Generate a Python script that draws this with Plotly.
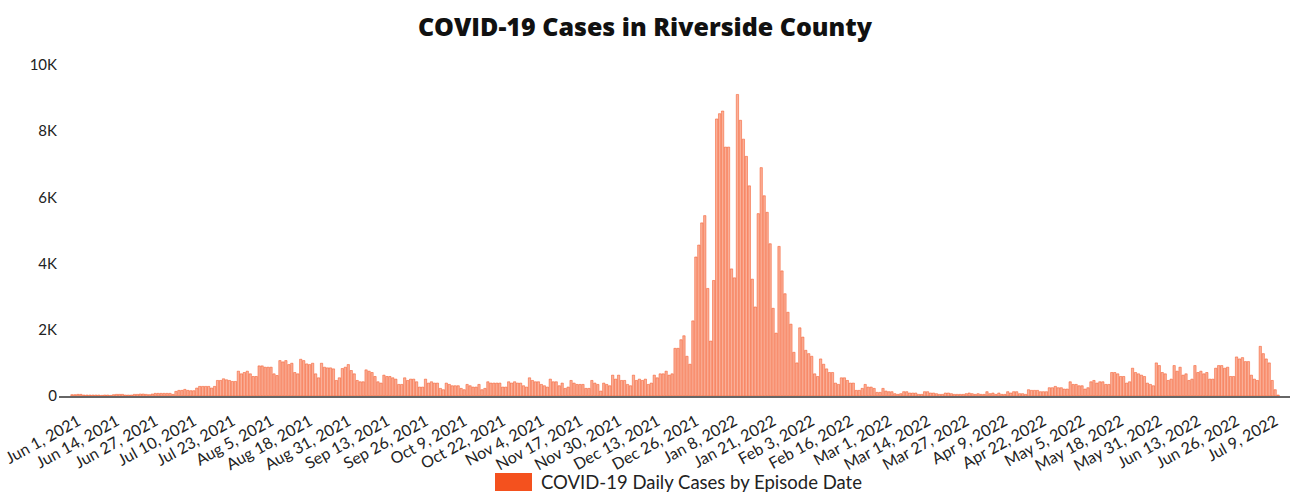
import pandas as pd
import plotly.graph_objects as go

start_date = "2021-06-01"

daily_cases = [
    # Jun 2021
    40, 40, 50, 50, 30, 30, 30, 30, 30, 30, 20, 30, 30, 20,
    40, 50, 50, 50, 30, 30, 30, 50, 50, 60, 60, 50, 40, 60,
    80, 80, 80, 80, 80, 80, 50, 140, 170,
    # Jul - Aug 2021
    170, 200, 170, 160, 160, 240, 290, 290, 290, 290, 240, 290, 470, 470,
    520, 490, 470, 440, 440, 750, 670, 710, 750, 670, 590, 590, 910, 910,
    870, 870, 870, 670, 620, 1070, 1030, 1070, 950, 990, 710, 670, 1110, 1070,
    970, 950, 990, 670, 550, 990, 870, 850, 850, 820, 470,
    # Aug - Dec 2021
    550, 830, 870, 950, 770, 670, 470, 430, 430, 790,
    750, 710, 590, 430, 390, 630, 590, 590, 550, 510,
    350, 350, 550, 470, 510, 510, 430, 270, 270, 510,
    390, 430, 390, 390, 230, 190, 390, 350, 310, 310,
    310, 230, 190, 350, 310, 270, 270, 350, 190, 230,
    430, 390, 390, 390, 390, 270, 270, 430, 390, 430,
    390, 390, 310, 270, 550, 470, 430, 430, 350, 310,
    270, 510, 430, 430, 310, 390, 230, 270, 470, 390,
    350, 350, 350, 230, 230, 470, 390, 350, 150, 390,
    350, 310, 630, 510, 630,
    # Dec 2021 - Feb 2022 (Omicron wave)
    470, 470, 350, 310, 630, 470, 510, 470, 510, 350, 390, 630, 550, 670,
    670, 750, 630, 670, 1440, 1440, 1700, 1820, 1200, 960, 2270, 4200, 4560,
    5230, 5450, 3250, 1660, 3490, 8370, 8530, 8610, 7520, 7520, 3840, 3570,
    9110, 8330, 7760, 7240, 6350, 3530, 2690, 5510, 6900, 6050, 5550, 4600,
    2650, 1900, 4520, 3780, 3090, 2530, 2170, 1320, 1000, 2060, 1780, 1380,
    1280, 1200, 670, 590, 1120, 960, 820, 710, 710, 390,
    # Feb - Apr 2022
    350, 550, 550, 470, 390, 390, 170, 170, 230, 350, 270, 270, 230, 110,
    110, 230, 150, 130, 130, 70, 50, 70, 130, 130, 90, 90, 90, 50, 50, 130,
    130, 90, 90, 70, 50, 50, 90, 90, 70, 50, 50, 50, 50, 70, 90, 70, 50, 70,
    50, 50, 130, 70, 90, 50, 90, 50, 50, 130, 90, 130, 130, 70, 70, 50,
    # Apr - Jul 2022
    190, 170, 170, 170, 130, 130, 130, 250, 250, 290, 250, 250, 210, 210,
    430, 350, 350, 310, 310, 210, 250, 430, 470, 390, 430, 430, 350, 350,
    710, 710, 670, 590, 590, 390, 430, 840, 710, 670, 630, 590, 390, 350,
    310, 1000, 920, 710, 670, 470, 510, 920, 750, 870, 630, 670, 470, 510,
    920, 710, 750, 670, 710, 510, 510, 840, 920, 920, 840, 870, 590, 590,
    1180, 1120, 1160, 1040, 1040, 630, 510, 470, 1500, 1280, 1120, 1000,
    470, 190, 30,
]

tick_labels = [
    "Jun 1, 2021", "Jun 14, 2021", "Jun 27, 2021", "Jul 10, 2021", "Jul 23, 2021",
    "Aug 5, 2021", "Aug 18, 2021", "Aug 31, 2021", "Sep 13, 2021", "Sep 26, 2021",
    "Oct 9, 2021", "Oct 22, 2021", "Nov 4, 2021", "Nov 17, 2021", "Nov 30, 2021",
    "Dec 13, 2021", "Dec 26, 2021", "Jan 8, 2022", "Jan 21, 2022", "Feb 3, 2022",
    "Feb 16, 2022", "Mar 1, 2022", "Mar 14, 2022", "Mar 27, 2022", "Apr 9, 2022",
    "Apr 22, 2022", "May 5, 2022", "May 18, 2022", "May 31, 2022", "Jun 13, 2022",
    "Jun 26, 2022", "Jul 9, 2022",
]

y_tick_values = [0, 2000, 4000, 6000, 8000, 10000]
y_tick_labels = ["0", "2K", "4K", "6K", "8K", "10K"]

series_name = "COVID-19 Daily Cases by Episode Date"
title_text = "COVID-19 Cases in Riverside County"

dates = pd.date_range(start_date, periods=len(daily_cases), freq="D")
tick_dates = pd.to_datetime(tick_labels, format="%b %d, %Y")

ORANGE = "#F4511E"
W, H = 1290, 493
L, T, B = 59, 65, 97
PH = H - T - B

fig = go.Figure()
fig.add_trace(go.Bar(
    x=dates, y=daily_cases, name=series_name, showlegend=False,
    marker=dict(color="rgba(244,81,30,0.46)", line=dict(color=ORANGE, width=0.5)),
))

x_start = pd.Timestamp(start_date) - pd.Timedelta(hours=int(4.4 * 24))
x_end = pd.Timestamp(start_date) + pd.Timedelta(hours=int(410 * 24))

# Legend swatch + label (bottom centre)
fig.add_shape(type="rect", xref="paper", yref="paper",
              x0=(495 - L) / (W - L), x1=(532 - L) / (W - L),
              y0=-(491 - (T + PH)) / PH, y1=-(473 - (T + PH)) / PH,
              fillcolor=ORANGE, line=dict(width=0))
fig.add_annotation(text=series_name, xref="paper", yref="paper",
                   x=(539 - L) / (W - L), xanchor="left",
                   y=-(482 - (T + PH)) / PH, yanchor="middle", showarrow=False,
                   font=dict(family="Lato, Carlito, sans-serif", size=18.5, color="#222222"))

fig.update_layout(
    width=W, height=H,
    margin=dict(l=L, r=0, t=T, b=B, autoexpand=False),
    paper_bgcolor="white", plot_bgcolor="white",
    bargap=0.22,
    font=dict(family="Lato, Carlito, sans-serif", color="#333333", size=14),
    title=dict(text=title_text, x=0.5, xref="container", xanchor="center",
               y=1 - 27 / H, yref="container", yanchor="middle",
               font=dict(family="Open Sans", size=25, color="#111111", weight=800)),
    showlegend=False,
    xaxis=dict(type="date", range=[x_start, x_end], automargin=False,
               tickmode="array", tickvals=tick_dates, ticktext=tick_labels,
               tickangle=-29, showgrid=False, showline=True, linecolor="#666666",
               linewidth=2, ticks="", zeroline=False, ticklabeloverflow="allow",
               ticklabelshift=6, ticklabelstandoff=8,
               tickfont=dict(size=16, color="#222222")),
    yaxis=dict(range=[0, 10000], tickmode="array", tickvals=y_tick_values,
               ticktext=y_tick_labels, showgrid=False, zeroline=False, automargin=False,
               showline=False, ticks="", tickfont=dict(size=15, color="#222222"),
               ticklabelstandoff=1, ticklabeloverflow="allow"),
)

fig.write_html("out.html", config={"displayModeBar": False},
               post_script="document.body.style.margin='0';")
